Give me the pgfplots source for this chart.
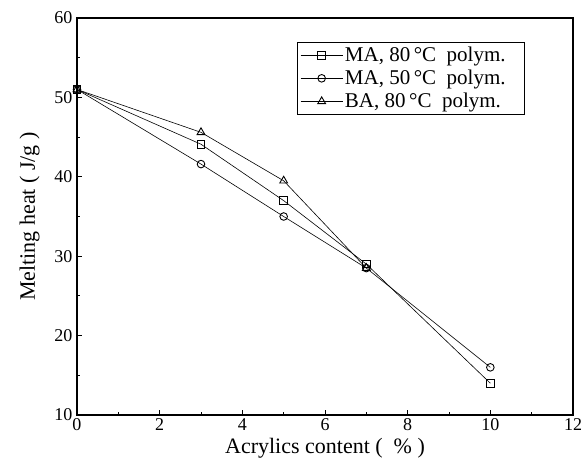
\documentclass[border=0pt]{standalone}
\usepackage{pgfplots}
\pgfplotsset{compat=1.18}
\usepackage{fontspec}
\setmainfont{Liberation Serif}
\begin{document}
\begin{tikzpicture}
\path[use as bounding box] (-77pt,-58pt) rectangle (507pt,415pt);
\begin{axis}[
  at={(0pt,0pt)}, anchor=south west,
  scale only axis,
  width=496pt, height=397pt,
  xmin=0, xmax=12, ymin=10, ymax=60,
  xtick={0,2,4,6,8,10,12},
  ytick={10,20,30,40,50,60},
  minor x tick num=1, minor y tick num=1,
  tick align=inside,
  xtick pos=bottom, ytick pos=left,
  major tick length=5pt, minor tick length=3pt,
  axis line style={line width=1.1pt},
  every tick/.style={black, line width=0.8pt},
  tick label style={font=\fontsize{18}{19}\selectfont},
  /pgf/number format/assume math mode=true,
  yticklabel style={xshift=-1pt},
  xlabel={Acrylics content\ (\ \ \%\ )},
  ylabel={Melting heat\ (\ J/g\ )},
  label style={font=\fontsize{22}{24}\selectfont},
  xlabel style={yshift=-1pt},
  ylabel style={yshift=8pt},
  legend style={at={(0.4435,0.94)}, anchor=north west, draw=black, line width=0.8pt,
    font=\fontsize{21}{24}\selectfont, inner xsep=3pt, inner ysep=3pt, row sep=3pt},
  legend cell align=left,
  legend image code/.code={
    \draw[#1, line width=0.6pt] (0pt,0pt) -- (42pt,0pt);
    \draw[#1, only marks] plot coordinates {(21pt,0pt)};
  },
  every axis plot/.append style={black, line width=0.6pt, mark size=3.8pt, mark options={solid, fill=white, line width=0.9pt}},
]
\addplot[mark=square] coordinates {(0,51) (3,44.1) (5,37) (7,29) (10,14)};
\addlegendentry{MA,\ 80\,\textdegree{}C\ \ polym.\kern14pt\null}
\addplot[mark=o] coordinates {(0,51) (3,41.6) (5,35) (7,28.5) (10,16)};
\addlegendentry{MA,\ 50\,\textdegree{}C\ \ polym.\kern14pt\null}
\addplot[mark=triangle, mark size=4.5pt] coordinates {(0,51) (3,45.6) (5,39.5) (7,28.5)};
\addlegendentry{BA,\ 80\,\textdegree{}C\ \ polym.\kern14pt\null}
\end{axis}
\end{tikzpicture}
\end{document}
